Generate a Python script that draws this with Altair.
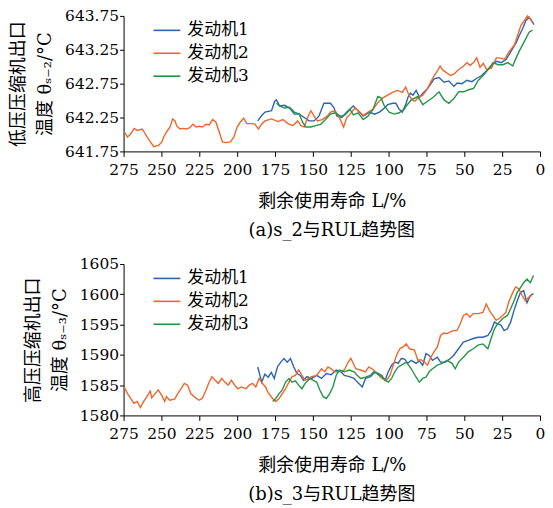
import altair as alt
import pandas as pd

engines = ["发动机1", "发动机2", "发动机3"]
colors = ["#2d64ae", "#f2652a", "#259548"]
x_ticks = [275, 250, 225, 200, 175, 150, 125, 100, 75, 50, 25, 0]

# ---------- panel (a): s_2 ----------
a_e1_L = [186.4, 183.8, 181.6, 177.3, 175.2, 174.1, 171.9, 168.7, 165.4, 162.2, 159, 155.7, 152.5, 149.2, 146,
          142.7, 138.4, 136.2, 134.1, 130.8, 127.6, 123.3, 120.1, 116.8, 112.5, 109.3, 106, 103.8, 100.6, 97.3,
          95.2, 93, 90.9, 88.7, 87.2, 85.5, 83.9, 81.8, 79.6, 77.4, 74.2, 72, 69.9, 66.7, 63.4, 60.2, 56.9, 54.7,
          51.5, 48.3, 45, 41.8, 38.5, 35.3, 32.1, 28.8, 25.6, 22.3, 19.1, 15.8, 13.7, 11.5, 9.4, 7.2, 5.0, 4.0]
a_e1_v = [642.20, 642.28, 642.33, 642.35, 642.49, 642.51, 642.42, 642.43, 642.39, 642.30, 642.30, 642.25, 642.20,
          642.20, 642.27, 642.46, 642.46, 642.40, 642.27, 642.25, 642.33, 642.42, 642.35, 642.27, 642.33, 642.30,
          642.33, 642.37, 642.44, 642.46, 642.46, 642.37, 642.33, 642.44, 642.55, 642.61, 642.58, 642.65, 642.55,
          642.61, 642.68, 642.75, 642.82, 642.84, 642.77, 642.79, 642.71, 642.76, 642.75, 642.80, 642.78, 642.83,
          642.87, 642.94, 643.01, 643.08, 643.06, 643.11, 643.23, 643.35, 643.46, 643.56, 643.68, 643.73, 643.66,
          643.62]

a_e2_L = [274.5, 272.4, 270.3, 268, 266, 262.7, 261.6, 259.4, 257.3, 255, 251.8, 249.7, 248.6, 246.5, 244.3, 242.6,
          241, 240, 237.8, 235.6, 233.5, 231.3, 229.2, 227.1, 225, 222.8, 220.6, 218.5, 216.2, 214, 211.9, 209.7,
          207.6, 204.4, 202.2, 200, 198, 195.7, 193.6, 190.3, 188.1, 186, 183.9, 181.6, 177.3, 173, 169.8, 166.5,
          163.3, 160, 157.9, 155.7, 153.5, 151.3, 149.2, 147, 143.8, 140.5, 138.4, 135.2, 131.9, 129.7, 127.6,
          125.4, 122.2, 119, 116.8, 113.6, 110.3, 107.1, 103.8, 100.6, 97.3, 94.1, 90.9, 88.7, 86.6, 84.5, 82.5,
          80.7, 77.4, 74.2, 72, 69.9, 67.7, 66, 64.5, 62.3, 59.1, 56.9, 53.7, 50.4, 48.3, 46.1, 43.9, 41.8, 39.6,
          37.5, 35.3, 32.1, 28.8, 26.7, 23.4, 20.2, 16.9, 14.8, 12.6, 10.4, 8.3, 6.1, 5.0]
a_e2_v = [642.04, 641.96, 642.01, 642.09, 642.06, 642.08, 642.04, 641.96, 641.89, 641.82, 641.84, 641.89, 641.96,
          642.04, 642.11, 642.23, 642.20, 642.13, 642.08, 642.09, 642.08, 642.10, 642.15, 642.11, 642.12, 642.11,
          642.15, 642.14, 642.22, 642.18, 642.04, 641.89, 641.88, 641.89, 641.96, 642.11, 642.18, 642.24, 642.16,
          642.16, 642.15, 642.08, 642.15, 642.20, 642.23, 642.19, 642.22, 642.16, 642.13, 642.20, 642.13, 642.11,
          642.25, 642.35, 642.27, 642.20, 642.22, 642.27, 642.33, 642.35, 642.22, 642.11, 642.25, 642.30, 642.39,
          642.33, 642.28, 642.33, 642.37, 642.47, 642.54, 642.58, 642.62, 642.65, 642.62, 642.70, 642.58, 642.51,
          642.49, 642.54, 642.58, 642.68, 642.78, 642.87, 642.94, 643.01, 642.96, 642.92, 642.87, 642.89, 642.96,
          643.01, 643.06, 643.02, 643.06, 643.13, 642.99, 643.05, 642.96, 642.98, 643.13, 643.13, 643.11, 643.23,
          643.32, 643.46, 643.61, 643.68, 643.75, 643.70, 643.66]

a_e3_L = [174, 172, 168.7, 165.4, 162.2, 159, 156.8, 154.6, 151.3, 148.1, 144.9, 141.6, 138.4, 135.2, 131.9, 128.7,
          125.4, 123.3, 120.1, 116.8, 113.6, 110.3, 107.1, 105, 102.8, 99.6, 96.3, 93, 89.8, 88.3, 85, 80.7, 77.4,
          74.2, 69.9, 66.7, 63.4, 60.2, 56.9, 53.7, 50.4, 47.2, 43.9, 40.7, 37.5, 34.2, 31, 27.7, 24.5, 21.2, 18,
          15.8, 13.7, 10.4, 7.2, 5.0]
a_e3_v = [642.46, 642.42, 642.39, 642.40, 642.33, 642.30, 642.18, 642.11, 642.11, 642.13, 642.15, 642.22, 642.30,
          642.32, 642.27, 642.29, 642.37, 642.29, 642.32, 642.22, 642.27, 642.37, 642.56, 642.54, 642.42, 642.33,
          642.30, 642.32, 642.37, 642.42, 642.51, 642.56, 642.44, 642.49, 642.56, 642.63, 642.51, 642.46, 642.53,
          642.63, 642.63, 642.66, 642.68, 642.80, 642.87, 642.96, 643.06, 643.03, 643.03, 643.06, 643.01, 643.13,
          643.23, 643.37, 643.51, 643.54]

# ---------- panel (b): s_3 ----------
b_e1_L = [186.4, 183.8, 181.7, 179.5, 177.4, 175.5, 173.4, 171.2, 169.1, 166.9, 164.8, 162.6, 160.5, 158.3, 156.2,
          154, 150.8, 147.5, 144.3, 141.1, 137.9, 134.6, 131.4, 129.2, 126, 122.8, 120.6, 117.4, 115.2, 112, 108.8,
          106.6, 104.5, 102.3, 100.2, 98, 95.9, 93.7, 91.6, 89.4, 87.3, 85, 81.8, 79.7, 77.5, 75.3, 73.2, 71, 67.8,
          65.7, 62.4, 59.2, 57.1, 53.8, 50.6, 47.4, 44.1, 40.9, 37.7, 34.4, 32.3, 30.1, 28, 25.8, 23.7, 21.5, 19.4,
          17.2, 15.1, 12.9, 10.8, 8.6, 6.4, 4.3]
b_e1_v = [1588.0, 1585.5, 1586.8, 1586.3, 1587.1, 1586.1, 1588.0, 1588.8, 1589.4, 1588.8, 1589.4, 1588.0, 1586.9,
          1586.6, 1585.8, 1586.4, 1586.1, 1586.6, 1586.1, 1586.9, 1586.7, 1587.5, 1587.2, 1586.6, 1586.4, 1586.1,
          1585.5, 1584.7, 1586.1, 1586.4, 1587.2, 1586.9, 1586.6, 1585.8, 1587.2, 1588.3, 1588.8, 1588.6, 1589.4,
          1589.3, 1588.6, 1589.1, 1588.6, 1589.0, 1588.3, 1590.2, 1589.9, 1589.1, 1589.6, 1588.8, 1588.8, 1589.4,
          1589.9, 1591.0, 1592.1, 1592.4, 1592.7, 1592.9, 1592.9, 1593.2, 1594.0, 1595.4, 1595.1, 1594.9, 1594.0,
          1594.3, 1595.4, 1597.3, 1598.9, 1600.3, 1600.6, 1598.6, 1599.8, 1600.1]

b_e2_L = [274.6, 272.4, 270.3, 268.2, 266, 263.9, 261.7, 259.6, 257.4, 256.4, 254.2, 252.1, 250, 247.8, 246.7, 244.6,
          241.3, 239.2, 237.1, 234.9, 232.7, 230.6, 228.4, 225.2, 223.1, 221, 218.8, 216.7, 214.5, 212.4, 210.2,
          208.1, 205.9, 203.8, 201.6, 199.5, 197.3, 194.1, 192, 189.8, 187.7, 185.5, 183.4, 181.2, 179.8, 176.6,
          174.5, 172.3, 170.2, 168, 165.8, 163.7, 161.5, 159.4, 157.2, 155.1, 152.9, 150.8, 147.5, 144.3, 142.2,
          140, 137.9, 135.7, 132.5, 129.2, 127.1, 124.9, 123.9, 121.7, 118.5, 115.2, 113.1, 109.9, 107.7, 104.5,
          101.3, 99.1, 96.9, 94.8, 92.6, 90.5, 88.3, 86.2, 82.9, 80.7, 78.6, 76.4, 74.3, 72.1, 70, 67.8, 65.7, 63.5,
          61.4, 59.2, 57.1, 54.9, 52.7, 50.6, 48.4, 46.3, 44.1, 40.9, 37.7, 35.5, 33.4, 31.2, 29, 26.9, 24.7, 22.6,
          20.4, 18.3, 16.1, 14, 11.8, 9.7, 7.5, 5.4]
b_e2_v = [1584.7, 1583.6, 1582.8, 1582.0, 1582.3, 1581.3, 1582.3, 1583.1, 1584.0, 1582.9, 1583.6, 1584.2, 1583.4,
          1582.3, 1583.1, 1582.5, 1582.7, 1583.6, 1584.4, 1585.3, 1585.0, 1583.6, 1583.1, 1582.5, 1582.8, 1583.9,
          1585.3, 1586.4, 1585.8, 1585.3, 1586.1, 1585.5, 1585.0, 1585.8, 1585.0, 1584.4, 1584.7, 1584.4, 1585.0,
          1585.3, 1584.7, 1586.1, 1585.3, 1584.7, 1583.9, 1582.8, 1582.3, 1582.8, 1583.6, 1584.4, 1585.5, 1586.4,
          1586.6, 1587.5, 1586.6, 1585.8, 1586.1, 1586.4, 1586.6, 1587.7, 1587.2, 1588.0, 1587.7, 1587.2, 1587.2,
          1587.5, 1588.6, 1589.4, 1588.9, 1587.7, 1587.5, 1587.2, 1588.0, 1587.5, 1586.9, 1586.1, 1585.8, 1586.6,
          1588.3, 1589.9, 1591.0, 1591.3, 1591.8, 1591.0, 1590.8, 1589.1, 1589.2, 1588.8, 1588.3, 1589.6, 1590.5,
          1591.3, 1593.2, 1593.6, 1593.5, 1593.8, 1594.0, 1594.0, 1595.1, 1596.5, 1596.8, 1596.2, 1596.8, 1596.8,
          1597.0, 1598.4, 1597.3, 1596.5, 1595.7, 1596.0, 1596.5, 1597.0, 1598.9, 1600.1, 1601.2, 1600.9, 1599.8,
          1598.9, 1599.5, 1599.8]

b_e3_L = [176.6, 174.5, 172.3, 170.2, 168, 165.8, 163.7, 161.5, 159.4, 157.2, 155.1, 151.9, 149.7, 147.5, 145.4,
          143.2, 141.1, 138.9, 136.8, 134.6, 132.5, 129.2, 126, 122.8, 120.6, 118.5, 115.2, 112, 109.9, 107.7, 104.5,
          102.3, 100.2, 98, 95.9, 93.7, 91.6, 88.3, 85, 81.8, 79.7, 77.5, 75.3, 73.2, 71, 67.8, 64.6, 61.4, 58.1,
          56, 53.8, 50.6, 47.4, 44.1, 40.9, 37.7, 34.4, 32.3, 30.1, 28, 24.7, 21.5, 19.4, 17.2, 15.1, 12.9, 10.8,
          8.6, 6.4, 4.3]
b_e3_v = [1582.3, 1582.8, 1583.6, 1584.2, 1585.5, 1586.1, 1585.5, 1585.7, 1585.0, 1584.4, 1585.3, 1586.1, 1585.8,
          1585.5, 1584.2, 1583.1, 1582.8, 1583.6, 1584.7, 1586.6, 1587.5, 1587.2, 1587.5, 1587.2, 1586.6, 1586.1,
          1586.3, 1586.6, 1587.2, 1586.9, 1586.4, 1585.8, 1585.5, 1586.1, 1587.2, 1588.0, 1588.3, 1588.8, 1587.7,
          1586.3, 1585.5, 1586.1, 1586.3, 1587.2, 1587.7, 1588.3, 1588.6, 1589.1, 1588.6, 1587.7, 1588.8, 1589.6,
          1590.5, 1591.0, 1591.6, 1591.8, 1591.0, 1592.7, 1594.3, 1595.1, 1596.0, 1596.5, 1597.6, 1598.9, 1600.3,
          1601.1, 1601.9, 1602.5, 1601.9, 1603.1]

FONT = "DejaVu Serif, Noto Sans CJK SC"


def make_df(series):
    rows = []
    for name, Ls, vs in series:
        for L, v in zip(Ls, vs):
            rows.append({"L": L, "v": v, "engine": name})
    return pd.DataFrame(rows)


def panel(df, ydomain, yticks, yfmt, ytitle, caption, height):
    return alt.Chart(df, title=alt.TitleParams(
        caption, orient="bottom", fontSize=18, font=FONT, fontWeight="normal", color="black", offset=12
    )).mark_line(strokeWidth=1.4).encode(
        x=alt.X("L:Q", scale=alt.Scale(domain=[0, 275], reverse=True, nice=False, zero=False),
                axis=alt.Axis(values=x_ticks, title="剩余使用寿命 L/%", tickSize=5, labelPadding=6.5,
                              titlePadding=14, labelOverlap=False, labelFlush=False)),
        y=alt.Y("v:Q", scale=alt.Scale(domain=ydomain, nice=False, zero=False),
                axis=alt.Axis(values=yticks, format=yfmt, title=ytitle, tickSize=4, labelPadding=1,
                              titlePadding=10, titleLineHeight=27, labelOverlap=False)),
        color=alt.Color("engine:N", scale=alt.Scale(domain=engines, range=colors),
                        legend=alt.Legend(title=None, orient="none", legendX=29, legendY=0)),
        order=alt.Order("L:Q", sort="descending"),
    ).properties(width=418, height=height)


top = panel(
    make_df([(engines[0], a_e1_L, a_e1_v), (engines[1], a_e2_L, a_e2_v), (engines[2], a_e3_L, a_e3_v)]),
    [641.75, 643.75], [641.75, 642.25, 642.75, 643.25, 643.75], ".2f",
    ["低压压缩机出口", "温度 θₛ₋₂/°C"], "(a)s_2与RUL趋势图", 136)

bottom = panel(
    make_df([(engines[0], b_e1_L, b_e1_v), (engines[1], b_e2_L, b_e2_v), (engines[2], b_e3_L, b_e3_v)]),
    [1580, 1605], [1580, 1585, 1590, 1595, 1600, 1605], "d",
    ["高压压缩机出口", "温度 θₛ₋₃/°C"], "(b)s_3与RUL趋势图", 152)

chart = alt.vconcat(top, bottom, spacing=17).resolve_scale(color="independent").properties(
    padding={"left": 1, "top": 0, "right": 0, "bottom": 3}
).configure(font=FONT).configure_view(stroke=None).configure_axis(
    grid=False, domainColor="black", tickColor="black", labelColor="black", titleColor="black",
    labelFont=FONT, titleFont=FONT, labelFontSize=15.5, titleFontSize=18, titleFontWeight="normal",
    domainWidth=1, tickWidth=1
).configure_legend(
    labelFont=FONT, labelFontSize=17, labelColor="black", symbolType="stroke", symbolSize=729,
    symbolStrokeWidth=1.6, labelOffset=6, rowPadding=-7.5, padding=0
)

chart.save("out.html", embed_options={"renderer": "svg", "actions": False})
